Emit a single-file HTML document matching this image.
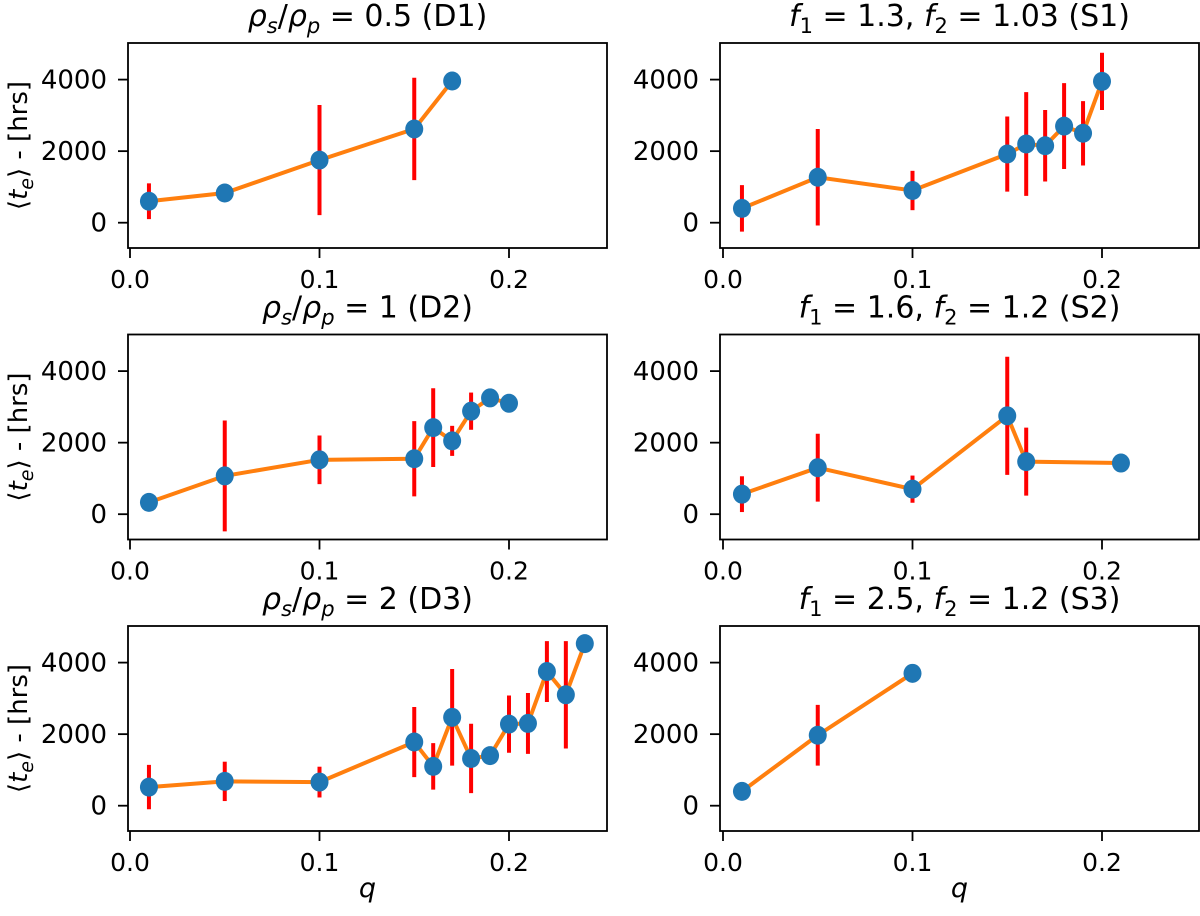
<!DOCTYPE html>
<html><head><meta charset="utf-8"><style>
body{margin:0;background:#fff}
svg text{font-family:"DejaVu Sans","Liberation Sans",sans-serif;fill:#000}
</style></head><body>
<svg id="fig" width="1200" height="911" xmlns="http://www.w3.org/2000/svg"></svg>
<script>
const qD1=[0.01,0.05,0.1,0.15,0.17];
const vD1=[600,830,1750,2620,3960];
const eD1=[500,250,1540,1430,0];
const qS1=[0.01,0.05,0.1,0.15,0.16,0.17,0.18,0.19,0.2];
const vS1=[400,1270,900,1920,2200,2150,2700,2500,3950];
const eS1=[650,1350,550,1050,1450,1000,1200,900,800];
const qD2=[0.01,0.05,0.1,0.15,0.16,0.17,0.18,0.19,0.2];
const vD2=[330,1070,1520,1550,2420,2050,2880,3250,3100];
const eD2=[0,1550,680,1050,1100,420,520,0,0];
const qS2=[0.01,0.05,0.1,0.15,0.16,0.21];
const vS2=[560,1300,700,2750,1470,1430];
const eS2=[500,950,380,1650,950,0];
const qD3=[0.01,0.05,0.1,0.15,0.16,0.17,0.18,0.19,0.2,0.21,0.22,0.23,0.24];
const vD3=[520,680,660,1780,1100,2470,1320,1400,2280,2300,3750,3100,4530];
const eD3=[620,550,430,980,650,1350,970,0,800,850,850,1500,0];
const qS3=[0.01,0.05,0.1];
const vS3=[400,1970,3700];
const eS3=[0,850,0];
const xTicks=[0.0,0.1,0.2];
const xTickLabels=["0.0","0.1","0.2"];
const yTicks=[0,2000,4000];
const yTickLabels=["0","2000","4000"];

const NS="http://www.w3.org/2000/svg";
const svg=document.getElementById('fig');
function mk(tag,attrs,parent){const e=document.createElementNS(NS,tag);for(const k in attrs)e.setAttribute(k,attrs[k]);(parent||svg).appendChild(e);return e;}

const rho=(s)=>'<tspan font-style="italic">ρ</tspan><tspan font-style="italic" font-size="21" dy="7">s</tspan><tspan dy="-7">/</tspan><tspan font-style="italic">ρ</tspan><tspan font-style="italic" font-size="21" dy="7">p</tspan><tspan dy="-7"> = '+s+'</tspan>';
const ff=(a,b,s)=>'<tspan font-style="italic">f</tspan><tspan font-size="21" dy="7">1</tspan><tspan dy="-7"> = '+a+', </tspan><tspan font-style="italic">f</tspan><tspan font-size="21" dy="7">2</tspan><tspan dy="-7"> = '+b+' ('+s+')</tspan>';
const panels=[
 {q:qD1,v:vD1,e:eD1,col:0,row:0,title:rho('0.5 (D1)'),name:'d1'},
 {q:qS1,v:vS1,e:eS1,col:1,row:0,title:ff('1.3','1.03','S1'),name:'s1'},
 {q:qD2,v:vD2,e:eD2,col:0,row:1,title:rho('1 (D2)'),name:'d2'},
 {q:qS2,v:vS2,e:eS2,col:1,row:1,title:ff('1.6','1.2','S2'),name:'s2'},
 {q:qD3,v:vD3,e:eD3,col:0,row:2,title:rho('2 (D3)'),name:'d3'},
 {q:qS3,v:vS3,e:eS3,col:1,row:2,title:ff('2.5','1.2','S3'),name:'s3'}
];

panels.forEach(p=>{
  const x0=p.col?723:130, boxL=p.col?720:128, boxR=p.col?1199:607;
  const base=222.7+p.row*291.5, top=43+p.row*291.5, bot=248+p.row*291.5;
  const X=q=>x0+q*1895;
  const Y=v=>base-v*0.035775;
  const g=mk('g',{});
  
  
  const t=mk('text',{x:(boxL+boxR)/2,y:top-17,'text-anchor':'middle','font-size':'30'},g);
  t.innerHTML=p.title;
  
  
  xTicks.forEach((tk,i)=>{
    mk('line',{x1:X(tk),x2:X(tk),y1:bot,y2:bot+10,stroke:'#000','stroke-width':1.8},g);
    const l=mk('text',{x:X(tk),y:bot+40,'text-anchor':'middle','font-size':'25'},g);
    l.textContent=xTickLabels[i];
    
    
  });
  yTicks.forEach((tk,i)=>{
    mk('line',{x1:boxL-10,x2:boxL,y1:Y(tk),y2:Y(tk),stroke:'#000','stroke-width':1.8},g);
    const l=mk('text',{x:boxL-21,y:Y(tk)+9,'text-anchor':'end','font-size':'26'},g);
    l.textContent=yTickLabels[i];
    
    
  });
  const pl=mk('polyline',{points:p.q.map((q,i)=>X(q)+','+Y(p.v[i])).join(' '),fill:'none',stroke:'#ff7f0e','stroke-width':4},g);
  
  
  p.q.forEach((q,i)=>{
    if(p.e[i]>0){
      const eb=mk('line',{x1:X(q),x2:X(q),y1:Y(p.v[i]-p.e[i]),y2:Y(p.v[i]+p.e[i]),stroke:'#ff0000','stroke-width':4},g);
      
      
    }
  });
  p.q.forEach((q,i)=>{
    const c=mk('ellipse',{cx:X(q),cy:Y(p.v[i]),rx:9,ry:9.5,fill:'#1f77b4'},g);
    
    
  });
  const box=mk('rect',{x:boxL,y:top,width:boxR-boxL,height:bot-top,fill:'none',stroke:'#000','stroke-width':1.8},g);
  
  
  if(p.col===0){
    const yl=mk('text',{x:0,y:0,'text-anchor':'middle','font-size':'26',transform:`translate(27,${(top+bot)/2}) rotate(-90)`},g);
    yl.innerHTML='⟨<tspan font-style="italic">t</tspan><tspan font-style="italic" font-size="19" dy="6">e</tspan><tspan dy="-6">⟩ - [hrs]</tspan>';
    
    
  }
  if(p.row===2){
    const xl=mk('text',{x:(boxL+boxR)/2,y:897,'text-anchor':'middle','font-size':'27','font-style':'italic'},g);
    xl.textContent='q';
    
    
  }
});
</script>
</body></html>
